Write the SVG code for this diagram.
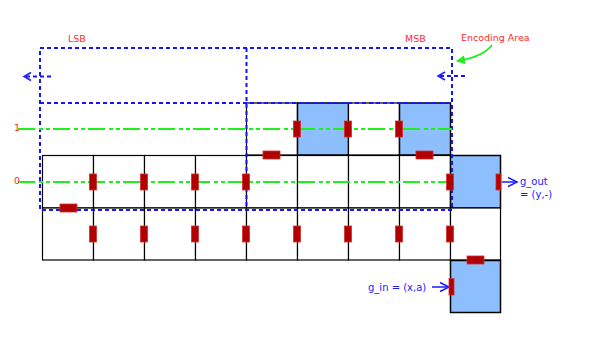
<svg xmlns="http://www.w3.org/2000/svg" width="609" height="343" viewBox="0 0 609 343">
<defs>
<style>
.cell{fill:#ffffff;stroke:#000;stroke-width:1.2}
.blue{fill:#8dbfff;stroke:#000;stroke-width:1.5}
.rv{fill:#b00000;stroke:#d03030;stroke-width:0.8}
.lbl{font-family:"DejaVu Sans",sans-serif;font-size:9.5px;fill:#ff2a2a}
.btx{font-family:"DejaVu Sans",sans-serif;font-size:10px;fill:#1a1aff}
.dash{fill:none;stroke:#1414ff;stroke-width:2;stroke-dasharray:4,3}
.dd{fill:none;stroke:#1ef01e;stroke-width:1.8;stroke-dasharray:17,4,4,3,4,3}
.arr{fill:none;stroke:#1a1aff;stroke-width:1.5}
</style>
<marker id="garr" markerWidth="9" markerHeight="9" refX="8" refY="4.5" orient="auto" markerUnits="userSpaceOnUse" viewBox="0 0 9 9">
<path d="M0,0 L9,4.5 L0,9 z" fill="#1ef01e"/>
</marker>
</defs>
<rect width="609" height="343" fill="#fff"/>

<g id="row-top">
<g id="c-t0"><rect class="cell" x="246.5" y="103" width="51" height="52"/></g>
<g id="c-t1"><rect class="blue" x="297.5" y="103" width="51" height="52"/></g>
<g id="c-t2"><rect class="cell" x="348.5" y="103" width="51" height="52"/></g>
<g id="c-t3"><rect class="blue" x="399.5" y="103" width="51" height="52"/></g>
</g>
<g id="row-0">
<g id="c-00"><rect class="cell" x="42.5" y="155.5" width="51" height="52.5"/></g>
<g id="c-01"><rect class="cell" x="93.5" y="155.5" width="51" height="52.5"/></g>
<g id="c-02"><rect class="cell" x="144.5" y="155.5" width="51" height="52.5"/></g>
<g id="c-03"><rect class="cell" x="195.5" y="155.5" width="51" height="52.5"/></g>
<g id="c-04"><rect class="cell" x="246.5" y="155.5" width="51" height="52.5"/></g>
<g id="c-05"><rect class="cell" x="297.5" y="155.5" width="51" height="52.5"/></g>
<g id="c-06"><rect class="cell" x="348.5" y="155.5" width="51" height="52.5"/></g>
<g id="c-07"><rect class="cell" x="399.5" y="155.5" width="51" height="52.5"/></g>
<g id="c-08"><rect class="blue" x="450.5" y="155.5" width="50" height="52.5"/></g>
</g>
<g id="row-m1">
<g id="c-10"><rect class="cell" x="42.5" y="208" width="51" height="52"/></g>
<g id="c-11"><rect class="cell" x="93.5" y="208" width="51" height="52"/></g>
<g id="c-12"><rect class="cell" x="144.5" y="208" width="51" height="52"/></g>
<g id="c-13"><rect class="cell" x="195.5" y="208" width="51" height="52"/></g>
<g id="c-14"><rect class="cell" x="246.5" y="208" width="51" height="52"/></g>
<g id="c-15"><rect class="cell" x="297.5" y="208" width="51" height="52"/></g>
<g id="c-16"><rect class="cell" x="348.5" y="208" width="51" height="52"/></g>
<g id="c-17"><rect class="cell" x="399.5" y="208" width="51" height="52"/></g>
<g id="c-18"><rect class="cell" x="450.5" y="208" width="50" height="52"/></g>
</g>
<g id="c-in"><rect class="blue" x="450.5" y="260.5" width="50" height="52"/></g>

<g id="connectors">
<rect class="dash" x="40" y="48" width="412" height="162"/>
<line class="dash" x1="40" y1="103" x2="452" y2="103"/>
<line class="dash" x1="246.5" y1="48" x2="246.5" y2="210"/>
<line class="dash" x1="26" y1="76.5" x2="53" y2="76.5"/>
<path class="arr" d="M31,72.5 L24,76.5 L31,80.5" stroke-width="1.8"/>
<line class="dash" x1="440" y1="76" x2="467" y2="76"/>
<path class="arr" d="M445,72 L438,76 L445,80" stroke-width="1.8"/>
<line class="dd" x1="18" y1="129" x2="452" y2="129"/>
<line class="dd" x1="18" y1="182" x2="450" y2="182"/>
<path d="M492,45 Q483,57 457,61" fill="none" stroke="#1ef01e" stroke-width="1.8" marker-end="url(#garr)"/>
<line class="arr" x1="502" y1="182" x2="517" y2="182"/>
<path class="arr" d="M508,177.5 L517,182 L508,186.5"/>
<line class="arr" x1="432" y1="287" x2="448" y2="287"/>
<path class="arr" d="M440,282.5 L449,287 L440,291.5"/>
</g>

<g id="ports">
<rect class="rv" x="293.5" y="121" width="7" height="16"/>
<rect class="rv" x="344.5" y="121" width="7" height="16"/>
<rect class="rv" x="395.5" y="121" width="7" height="16"/>
<rect class="rv" x="89.5" y="174" width="7" height="16"/>
<rect class="rv" x="140.5" y="174" width="7" height="16"/>
<rect class="rv" x="191.5" y="174" width="7" height="16"/>
<rect class="rv" x="242.5" y="174" width="7" height="16"/>
<rect class="rv" x="446.5" y="174" width="7" height="16"/>
<rect class="rv" x="496" y="174" width="5" height="16"/>
<rect class="rv" x="89.5" y="226" width="7" height="16"/>
<rect class="rv" x="140.5" y="226" width="7" height="16"/>
<rect class="rv" x="191.5" y="226" width="7" height="16"/>
<rect class="rv" x="242.5" y="226" width="7" height="16"/>
<rect class="rv" x="293.5" y="226" width="7" height="16"/>
<rect class="rv" x="344.5" y="226" width="7" height="16"/>
<rect class="rv" x="395.5" y="226" width="7" height="16"/>
<rect class="rv" x="446.5" y="226" width="7" height="16"/>
<rect class="rv" x="449" y="278.5" width="5" height="16.5"/>
<rect class="rv" x="263" y="151" width="17" height="8"/>
<rect class="rv" x="416" y="151" width="17" height="8"/>
<rect class="rv" x="60" y="204" width="17" height="8"/>
<rect class="rv" x="467" y="256" width="17" height="8"/>
</g>

<g id="labels">
<text class="lbl" x="68" y="42">LSB</text>
<text class="lbl" x="405" y="42">MSB</text>
<text class="lbl" x="461" y="41">Encoding Area</text>
<text class="lbl" x="14" y="131">1</text>
<text class="lbl" x="14" y="184">0</text>
<text class="btx" x="520" y="185">g_out</text>
<text class="btx" x="520" y="198">= (y,-)</text>
<text class="btx" x="368" y="291">g_in = (x,a)</text>
</g>
</svg>
